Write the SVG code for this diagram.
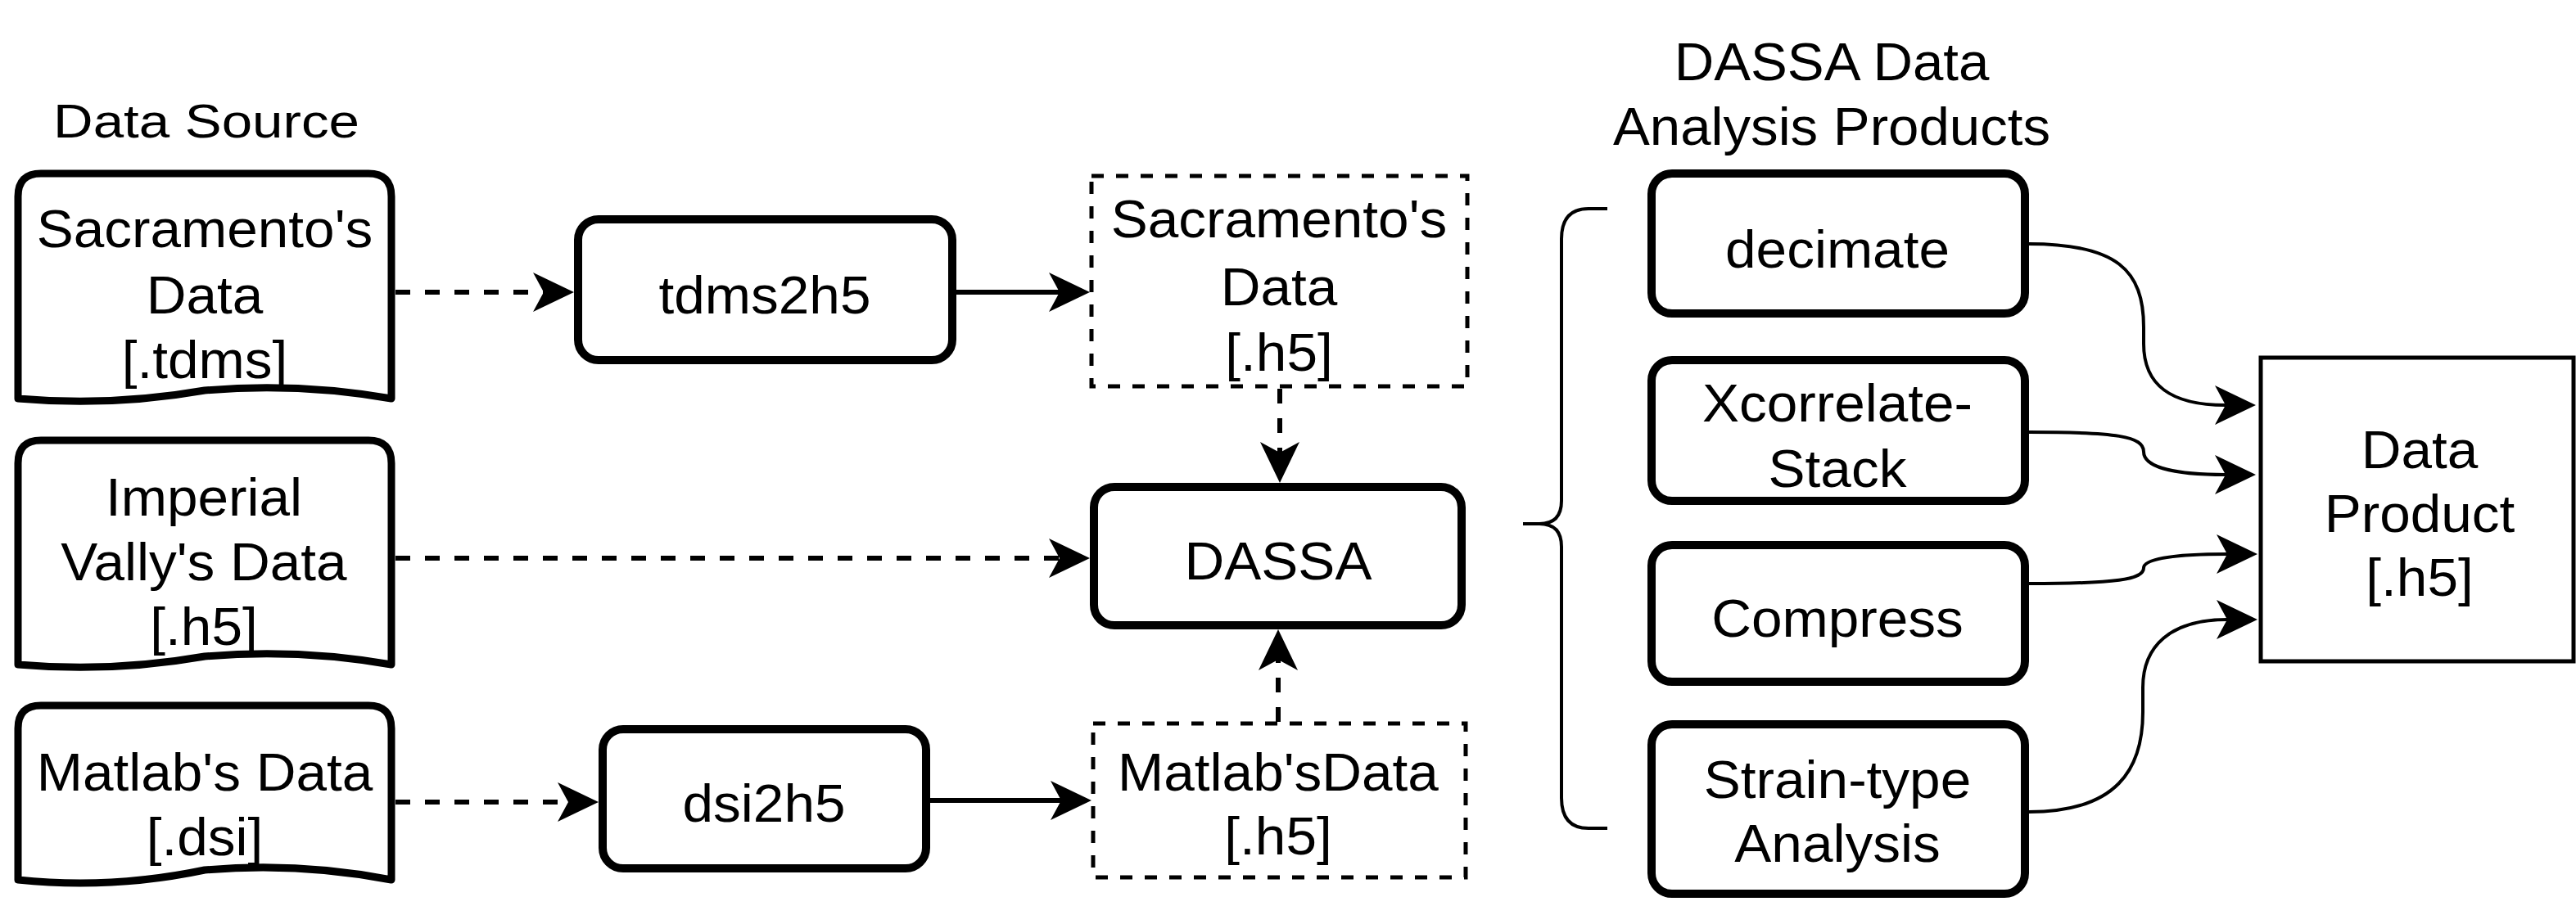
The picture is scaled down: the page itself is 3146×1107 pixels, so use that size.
<svg xmlns="http://www.w3.org/2000/svg" width="3146" height="1107" viewBox="0 0 3146 1107">
<style>
.doc{fill:#fff;stroke:#000;stroke-width:9;stroke-linejoin:round}
.box{fill:#fff;stroke:#000;stroke-width:10}
.dbox{fill:#fff;stroke:#000;stroke-width:5;stroke-dasharray:15 15}
.pbox{fill:#fff;stroke:#000;stroke-width:5}
.t{font-family:"Liberation Sans",Arial,Helvetica,sans-serif;font-size:64px;text-anchor:middle;fill:#000}
.c{fill:none;stroke:#000;stroke-width:6;marker-end:url(#ah)}
.dash{stroke-dasharray:18 18}
.cr{fill:none;stroke:#000;stroke-width:4;marker-end:url(#ah)}
.brace{fill:none;stroke:#000;stroke-width:4}
</style>
<defs>
<marker id="ah" viewBox="0 0 50 48" refX="13" refY="24" markerWidth="50" markerHeight="48" markerUnits="userSpaceOnUse" orient="auto">
<path d="M0,0 L50,24 L0,48 L13,24 Z" fill="#000"/>
</marker>
</defs>
<rect width="3146" height="1107" fill="#fff"/>

<g id="label-data-source">
<text class="t" style="font-size:58px" transform="translate(252 0) scale(1.16 1)"><tspan x="0" y="168">Data Source</tspan></text>
</g>
<g id="label-products">
<text class="t" transform="translate(2237 0) scale(1.05 1)"><tspan x="0" y="98">DASSA Data</tspan><tspan x="0" y="177">Analysis Products</tspan></text>
</g>

<g id="sacramento-tdms">
<path class="doc" d="M22,487 L22,240 Q22,212 50,212 L450,212 Q478,212 478,240 L478,487 Q364,467 250,477 Q136,497 22,487 Z"/>
<text class="t" transform="translate(250 0) scale(1.055 1)"><tspan x="0" y="302">Sacramento's</tspan><tspan x="0" y="383">Data</tspan><tspan x="0" y="462">[.tdms]</tspan></text>
</g>
<g id="imperial-h5">
<path class="doc" d="M22,812 L22,566 Q22,538 50,538 L450,538 Q478,538 478,566 L478,812 Q364,792 250,802 Q136,822 22,812 Z"/>
<text class="t" transform="translate(249 0) scale(1.055 1)"><tspan x="0" y="630">Imperial</tspan><tspan x="0" y="709">Vally's Data</tspan><tspan x="0" y="788">[.h5]</tspan></text>
</g>
<g id="matlab-dsi">
<path class="doc" d="M22,1075 L22,890 Q22,862 50,862 L450,862 Q478,862 478,890 L478,1075 Q364,1053 250,1063 Q136,1087 22,1075 Z"/>
<text class="t" transform="translate(250 0) scale(1.055 1)"><tspan x="0" y="966">Matlab's Data</tspan><tspan x="0" y="1045">[.dsi]</tspan></text>
</g>

<g id="tdms2h5">
<rect class="box" x="706" y="268" width="457" height="172" rx="25"/>
<text class="t" transform="translate(934 0) scale(1.055 1)"><tspan x="0" y="383">tdms2h5</tspan></text>
</g>
<g id="dsi2h5">
<rect class="box" x="736" y="891" width="395" height="170" rx="25"/>
<text class="t" transform="translate(933 0) scale(1.055 1)"><tspan x="0" y="1004">dsi2h5</tspan></text>
</g>

<g id="sacramento-h5">
<rect class="dbox" x="1333" y="215" width="459" height="257"/>
<text class="t" transform="translate(1562 0) scale(1.055 1)"><tspan x="0" y="290">Sacramento's</tspan><tspan x="0" y="373">Data</tspan><tspan x="0" y="453">[.h5]</tspan></text>
</g>
<g id="dassa">
<rect class="box" x="1336" y="595" width="449" height="169" rx="25"/>
<text class="t" transform="translate(1561 0) scale(1.055 1)"><tspan x="0" y="708">DASSA</tspan></text>
</g>
<g id="matlab-h5">
<rect class="dbox" x="1335" y="884" width="455" height="188"/>
<text class="t" transform="translate(1561 0) scale(1.055 1)"><tspan x="0" y="966">Matlab'sData</tspan><tspan x="0" y="1044">[.h5]</tspan></text>
</g>

<g id="brace">
<path class="brace" d="M1963,255 L1940,255 Q1907,255 1907,292 L1907,612 Q1907,640 1880,640 L1860,640 M1880,640 Q1907,640 1907,668 L1907,975 Q1907,1012 1940,1012 L1963,1012"/>
</g>

<g id="decimate">
<rect class="box" x="2017" y="212" width="456" height="171" rx="25"/>
<text class="t" transform="translate(2244 0) scale(1.055 1)"><tspan x="0" y="327">decimate</tspan></text>
</g>
<g id="xcorrelate-stack">
<rect class="box" x="2017" y="440" width="456" height="172" rx="25"/>
<text class="t" transform="translate(2244 0) scale(1.055 1)"><tspan x="0" y="515">Xcorrelate-</tspan><tspan x="0" y="595">Stack</tspan></text>
</g>
<g id="compress">
<rect class="box" x="2017" y="666" width="456" height="167" rx="25"/>
<text class="t" transform="translate(2244 0) scale(1.055 1)"><tspan x="0" y="778">Compress</tspan></text>
</g>
<g id="strain-type">
<rect class="box" x="2017" y="885" width="456" height="207" rx="25"/>
<text class="t" transform="translate(2244 0) scale(1.055 1)"><tspan x="0" y="975">Strain-type</tspan><tspan x="0" y="1053">Analysis</tspan></text>
</g>
<g id="data-product">
<rect class="pbox" x="2761" y="437" width="382" height="371"/>
<text class="t" transform="translate(2955 0) scale(1.055 1)"><tspan x="0" y="572">Data</tspan><tspan x="0" y="650">Product</tspan><tspan x="0" y="728">[.h5]</tspan></text>
</g>

<g id="connectors">
<path class="c dash" d="M483,357 L664,357"/>
<path class="c" d="M1168,357 L1294,357"/>
<path class="c dash" d="M1563,475 L1563,553"/>
<path class="c dash" d="M483,682 L1294,682"/>
<path class="c dash" d="M483,980 L694,980"/>
<path class="c" d="M1136,978 L1296,978"/>
<path class="c dash" d="M1561,882 L1561,806"/>
<path class="cr" d="M2478,298 C2585,298 2618,330 2618,400 L2618,420 C2618,470 2650,495 2718,495"/>
<path class="cr" d="M2478,528 C2585,528 2618,533 2618,552 C2618,572 2660,580 2718,580"/>
<path class="cr" d="M2478,713 C2585,713 2618,708 2618,694 C2618,682 2660,677 2720,677"/>
<path class="cr" d="M2478,992 C2585,992 2617,940 2617,870 L2617,840 C2617,790 2650,757 2720,757"/>
</g>
</svg>
